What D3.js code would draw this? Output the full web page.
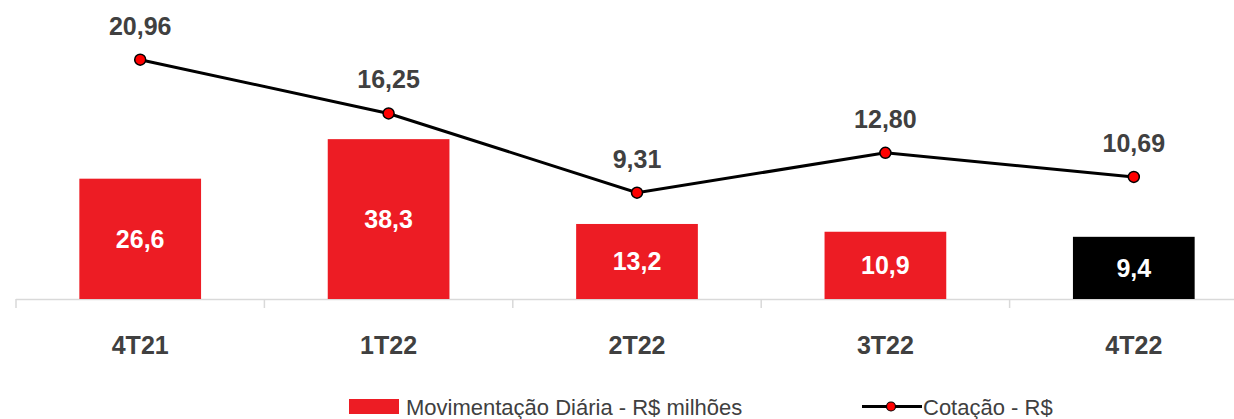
<!DOCTYPE html>
<html>
<head>
<meta charset="utf-8">
<script src="https://cdn.jsdelivr.net/npm/d3@7"></script>
<style>
  body { margin: 0; background: #fff; }
  svg { display: block; font-family: "Liberation Sans", Arial, sans-serif; }
</style>
</head>
<body>
<script>
// dados
const trimestres = ["4T21", "1T22", "2T22", "3T22", "4T22"];
const movimentacao = [26.6, 38.3, 13.2, 10.9, 9.4];
const cotacao = [20.96, 16.25, 9.31, 12.80, 10.69];
const serieNomes = ["Movimentação Diária - R$ milhões", "Cotação - R$"];

const width = 1234, height = 419;
const red = "#ed1c24", textColor = "#404040";
const fmt1 = v => d3.format(".1f")(v).replace(".", ",");
const fmt2 = v => d3.format(".2f")(v).replace(".", ",");

const svg = d3.select("body").append("svg")
  .attr("width", width).attr("height", height);

const x = d3.scaleBand().domain(trimestres).range([16, 1258]).padding(0);
const yBar = d3.scaleLinear().domain([-9, 40]).range([299, 133.4]);
const yLine = d3.scaleLinear().domain([0, 22]).range([299, 47.8]);
const barW = x.bandwidth() * 0.49;

// eixo
const axis = svg.append("g");
axis.append("line")
  .attr("x1", x.range()[0]).attr("x2", x.range()[1])
  .attr("y1", 299.5).attr("y2", 299.5)
  .attr("stroke", "#d9d9d9").attr("stroke-width", 1.5);
axis.selectAll("line.tick").data(trimestres.concat([null])).join("line")
  .attr("class", "tick")
  .attr("x1", (d, i) => x.range()[0] + i * x.step())
  .attr("x2", (d, i) => x.range()[0] + i * x.step())
  .attr("y1", 299).attr("y2", 308)
  .attr("stroke", "#d9d9d9").attr("stroke-width", 1.5);
axis.selectAll("text").data(trimestres).join("text")
  .attr("x", d => x(d) + x.bandwidth() / 2)
  .attr("y", 354)
  .attr("text-anchor", "middle")
  .attr("fill", textColor)
  .style("font-size", "25px").style("font-weight", "bold")
  .text(d => d);

// barras
const bars = svg.append("g");
bars.selectAll("rect").data(movimentacao).join("rect")
  .attr("x", (d, i) => x(trimestres[i]) + (x.bandwidth() - barW) / 2)
  .attr("y", d => yBar(d))
  .attr("width", barW)
  .attr("height", d => yBar(-9) - yBar(d))
  .attr("fill", (d, i) => i === movimentacao.length - 1 ? "#000" : red);
bars.selectAll("text").data(movimentacao).join("text")
  .attr("x", (d, i) => x(trimestres[i]) + x.bandwidth() / 2)
  .attr("y", d => (yBar(d) + yBar(-9)) / 2)
  .attr("dy", "0.36em")
  .attr("text-anchor", "middle")
  .attr("fill", "#fff")
  .style("font-size", "25px").style("font-weight", "bold")
  .text(d => fmt1(d));

// linha
const pts = cotacao.map((v, i) => [x(trimestres[i]) + x.bandwidth() / 2, yLine(v)]);
svg.append("path")
  .attr("d", d3.line()(pts))
  .attr("fill", "none").attr("stroke", "#000").attr("stroke-width", 3);
svg.append("g").selectAll("circle").data(pts).join("circle")
  .attr("cx", d => d[0]).attr("cy", d => d[1]).attr("r", 5.5)
  .attr("fill", "#ff0000").attr("stroke", "#000").attr("stroke-width", 1.5);
svg.append("g").selectAll("text").data(cotacao).join("text")
  .attr("x", (d, i) => pts[i][0])
  .attr("y", (d, i) => pts[i][1] - 25)
  .attr("text-anchor", "middle")
  .attr("fill", textColor)
  .style("font-size", "25px").style("font-weight", "bold")
  .text(d => fmt2(d));

// legenda
const leg = svg.append("g").style("font-family", "'Liberation Sans Narrow', 'Arial Narrow', sans-serif")
  .style("font-size", "22px").attr("fill", "#404040");
leg.append("rect").attr("x", 349).attr("y", 399).attr("width", 50).attr("height", 15).attr("fill", red);
leg.append("text").attr("x", 406).attr("y", 415).text(serieNomes[0]);
leg.append("line").attr("x1", 862).attr("x2", 922).attr("y1", 406.5).attr("y2", 406.5)
  .attr("stroke", "#000").attr("stroke-width", 3);
leg.append("circle").attr("cx", 891).attr("cy", 406.5).attr("r", 4.5)
  .attr("fill", "#ff0000").attr("stroke", "#000").attr("stroke-width", 1.2);
leg.append("text").attr("x", 923).attr("y", 415).text(serieNomes[1]);
</script>
</body>
</html>
